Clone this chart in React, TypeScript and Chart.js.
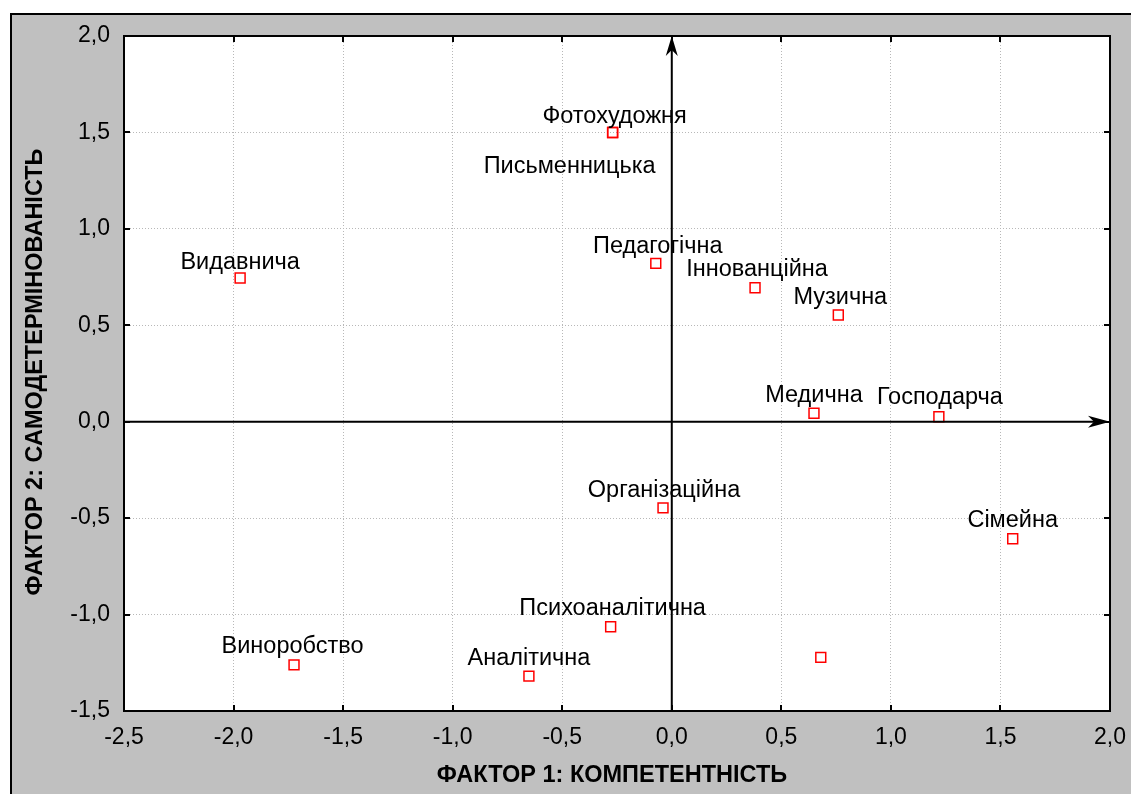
import { useEffect, useRef } from 'react';
import { Chart, registerables } from 'chart.js';

Chart.register(...registerables);

// ---- data ----
const professions = [
  'Фотохудожня',
  'Письменницька',
  'Видавнича',
  'Педагогічна',
  'Іннованційна',
  'Музична',
  'Медична',
  'Господарча',
  'Організаційна',
  'Сімейна',
  'Психоаналітична',
  'Аналітична',
  'Виноробство',
  '',
];
const factor1 = [-0.27, -0.27, -1.97, -0.073, 0.38, 0.76, 0.649, 1.219, -0.04, 1.556, -0.279, -0.652, -1.724, 0.68];
const factor2 = [1.5, 1.5, 0.745, 0.821, 0.695, 0.553, 0.044, 0.026, -0.447, -0.607, -1.063, -1.319, -1.261, -1.222];
const xTicks = [-2.5, -2.0, -1.5, -1.0, -0.5, 0.0, 0.5, 1.0, 1.5, 2.0];
const yTicks = [-1.5, -1.0, -0.5, 0.0, 0.5, 1.0, 1.5, 2.0];
const xTitle = 'ФАКТОР 1: КОМПЕТЕНТНІСТЬ';
const yTitle = 'ФАКТОР 2: САМОДЕТЕРМІНОВАНІСТЬ';

// ---- label placement (pixels relative to each marker) ----
const labelDx = [2, -43, 0, 2, 2, 2, 0, 1, 1, 0, 2, 0, -1.5, 0];
const labelDy = [-17, 33, -17, -18, -19, -19, -19, -20, -18, -19.5, -19, -19, -19, 0];

const FONT = '"Liberation Sans", Arial, Helvetica, sans-serif';
const LABEL_SIZE = 23.5;
const TICK_SIZE = 23;
const TITLE_SIZE = 23.5;
const fmt = (v: number) => v.toFixed(1).replace('.', ',').replace('-0,0', '0,0');

const deco = {
  id: 'deco',
  beforeDraw(chart: any) {
    const { ctx, width, height, chartArea: a } = chart;
    ctx.save();
    ctx.fillStyle = '#ffffff';
    ctx.fillRect(0, 0, width, height);
    ctx.fillStyle = '#c0c0c0';
    ctx.fillRect(11, 14, width, height);
    ctx.strokeStyle = '#000';
    ctx.lineWidth = 2;
    ctx.strokeRect(11, 14, width + 40, height + 40);
    ctx.fillStyle = '#ffffff';
    ctx.fillRect(a.left, a.top, a.right - a.left, a.bottom - a.top);
    ctx.restore();
  },
  afterDraw(chart: any) {
    const { ctx, chartArea: a } = chart;
    const xs = chart.scales.x;
    const ys = chart.scales.y;
    ctx.save();
    // frame
    ctx.strokeStyle = '#000';
    ctx.lineWidth = 2;
    ctx.strokeRect(a.left, a.top, a.right - a.left, a.bottom - a.top);
    // inward ticks
    ctx.beginPath();
    xTicks.forEach((v) => {
      const px = Math.round(xs.getPixelForValue(v));
      ctx.moveTo(px, a.bottom);
      ctx.lineTo(px, a.bottom - 6);
      ctx.moveTo(px, a.top);
      ctx.lineTo(px, a.top + 6);
    });
    yTicks.forEach((v) => {
      const py = Math.round(ys.getPixelForValue(v));
      ctx.moveTo(a.left, py);
      ctx.lineTo(a.left + 6, py);
      ctx.moveTo(a.right, py);
      ctx.lineTo(a.right - 6, py);
    });
    ctx.stroke();

    // zero axes with arrows
    const x0 = xs.getPixelForValue(0);
    const y0 = ys.getPixelForValue(0);
    ctx.lineWidth = 2;
    ctx.beginPath();
    ctx.moveTo(x0, a.bottom);
    ctx.lineTo(x0, a.top + 12);
    ctx.moveTo(a.left, y0);
    ctx.lineTo(a.right - 12, y0);
    ctx.stroke();
    ctx.fillStyle = '#000';
    ctx.beginPath();
    ctx.moveTo(x0, a.top);
    ctx.lineTo(x0 + 6, a.top + 20);
    ctx.lineTo(x0, a.top + 14);
    ctx.lineTo(x0 - 6, a.top + 20);
    ctx.closePath();
    ctx.fill();
    ctx.beginPath();
    ctx.moveTo(a.right, y0);
    ctx.lineTo(a.right - 22, y0 - 6);
    ctx.lineTo(a.right - 16, y0);
    ctx.lineTo(a.right - 22, y0 + 6);
    ctx.closePath();
    ctx.fill();

    // point labels
    ctx.font = `${LABEL_SIZE}px ${FONT}`;
    ctx.textAlign = 'center';
    ctx.textBaseline = 'alphabetic';
    ctx.fillStyle = '#000';
    professions.forEach((name, i) => {
      if (!name) return;
      const px = xs.getPixelForValue(factor1[i]) + labelDx[i];
      const py = ys.getPixelForValue(factor2[i]) + labelDy[i];
      ctx.fillText(name, px, py + 21 * 0.358);
    });

    // axis titles
    ctx.font = `bold ${TITLE_SIZE}px ${FONT}`;
    ctx.textBaseline = 'middle';
    ctx.fillText(xTitle, 612, 776);
    ctx.translate(36, 372);
    ctx.rotate(-Math.PI / 2);
    ctx.fillText(yTitle, 0, 0);
    ctx.restore();
  },
};

export default function App() {
  const ref = useRef<HTMLCanvasElement | null>(null);
  useEffect(() => {
    if (!ref.current) return;
    const chart = new Chart(ref.current, {
      type: 'scatter',
      data: {
        datasets: [
          {
            data: factor1.map((x, i) => ({ x, y: factor2[i] })),
            pointStyle: 'rect',
            pointRadius: 7,
            pointHoverRadius: 7,
            borderColor: '#ff0000',
            backgroundColor: 'rgba(255,255,255,0)',
            borderWidth: 1.5,
          },
        ],
      },
      options: {
        animation: false,
        responsive: false,
        events: [],
        layout: { padding: { left: 0, top: 36, right: 21, bottom: 0 } },
        plugins: { legend: { display: false }, tooltip: { enabled: false } },
        scales: {
          x: {
            type: 'linear',
            min: -2.5,
            max: 2.0,
            afterBuildTicks: (s: any) => {
              s.ticks = xTicks.map((v) => ({ value: v }));
            },
            afterFit: (s: any) => {
              s.height = 83;
              s.paddingLeft = 0;
              s.paddingRight = 0;
            },
            ticks: {
              callback: (v: any) => fmt(Number(v)),
              color: '#000',
              font: { family: FONT, size: TICK_SIZE },
              padding: 13,
              maxRotation: 0,
              autoSkip: false,
            },
            grid: { color: '#b8b8b8', lineWidth: 1, drawTicks: false },
            border: { display: false, dash: [1, 2] },
          },
          y: {
            type: 'linear',
            min: -1.5,
            max: 2.0,
            afterBuildTicks: (s: any) => {
              s.ticks = yTicks.map((v) => ({ value: v }));
            },
            afterFit: (s: any) => {
              s.width = 124;
              s.paddingTop = 0;
              s.paddingBottom = 0;
            },
            ticks: {
              callback: (v: any) => fmt(Number(v)),
              color: '#000',
              font: { family: FONT, size: TICK_SIZE },
              padding: 14,
              autoSkip: false,
            },
            grid: { color: '#b8b8b8', lineWidth: 1, drawTicks: false },
            border: { display: false, dash: [1, 2] },
          },
        },
      } as any,
      plugins: [deco],
    });
    return () => chart.destroy();
  }, []);
  return (
    <div style={{ position: 'absolute', left: 0, top: 0, width: 1131, height: 794 }}>
      <canvas ref={ref} width={1131} height={794} style={{ display: 'block' }} />
    </div>
  );
}
